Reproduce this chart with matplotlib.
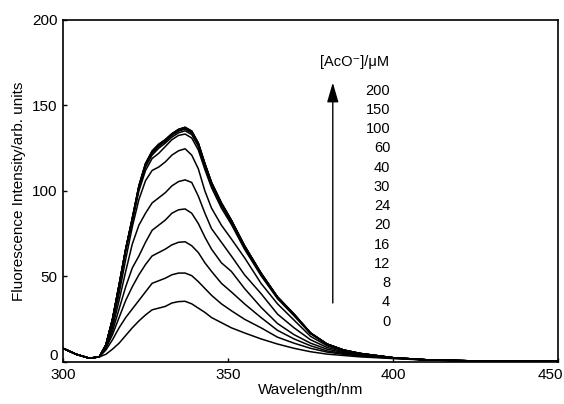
import matplotlib
matplotlib.use("Agg")
import matplotlib.pyplot as plt
import matplotlib.transforms as mtransforms

plt.rcParams['font.family'] = ['Liberation Sans', 'DejaVu Sans']

wavelength = [300, 304, 308, 311, 313, 315, 317, 319, 321, 323, 325, 327, 329, 331, 333,
              335, 337, 339, 341, 343, 345, 348, 351, 355, 360, 365, 370, 375, 380, 385,
              390, 400, 410, 425, 450]

conc = [0, 4, 8, 12, 16, 20, 24, 30, 40, 60, 100, 150, 200]

i_0 = [8.0, 4.5, 2.2, 3.0, 4.5, 7.5, 11, 15.5, 20, 24, 27.5, 30.5, 31.5, 32.5, 34.5,
       35.3, 35.5, 34, 31.5, 29, 26, 23, 20, 17, 13.5, 10.5, 8, 6, 4.6, 3.8,
       3.0, 2.0, 1.1, 0.5, 0.2]
i_4 = [8.0, 4.5, 2.2, 3.0, 7, 13, 20, 26, 31, 36, 41, 46, 47.5, 49, 51,
       52, 52, 50.5, 47, 43, 39, 34, 30, 25, 20, 14.5, 11, 8, 5.8, 4.5,
       3.5, 2.2, 1.2, 0.5, 0.2]
i_8 = [8.0, 4.5, 2.2, 3.0, 8, 16, 26, 36, 44, 51, 57, 62, 64, 66, 68.5,
       70, 70.3, 68, 64, 58, 53, 46, 41, 34, 26, 18.5, 13.5, 9.5, 6.5, 5,
       3.7, 2.3, 1.2, 0.6, 0.3]
i_12 = [8.0, 4.5, 2.2, 3.0, 8.5, 18, 31, 44, 55, 62, 70, 77, 80, 83, 87,
        89, 89.5, 87, 81, 73, 66, 58, 53, 43, 32, 22.5, 16, 11, 7.5, 5.5,
        4.0, 2.4, 1.2, 0.6, 0.3]
i_16 = [8.0, 4.5, 2.2, 3.0, 9, 20, 36, 53, 69, 80, 87, 93, 96, 99, 103,
        105.5, 106.5, 105, 97, 87, 78, 70, 62, 51, 40, 28, 20, 13, 8.5, 6,
        4.3, 2.4, 1.3, 0.6, 0.3]
i_20 = [8.0, 4.5, 2.2, 3.0, 9.5, 22, 40, 60, 79, 95, 106, 112, 114, 117, 121,
        123.5, 124.7, 121, 113, 100, 90, 80, 72, 61, 46, 34, 24.5, 15, 9.5, 6.5,
        4.6, 2.5, 1.3, 0.6, 0.3]
i_24 = [8.0, 4.5, 2.2, 3.0, 10, 25, 44, 65, 82, 100, 112, 119, 122, 126, 130,
        132.5, 133.3, 131, 124, 112.5, 102, 90, 80.5, 66, 50.5, 37, 27, 16.5, 10.3, 6.9,
        4.9, 2.5, 1.3, 0.6, 0.3]
i_30 = [8.0, 4.5, 2.2, 3.0, 10, 25, 45, 65.5, 83, 101.5, 114, 121, 125, 128, 131.5,
        134, 135.2, 133, 126, 114, 103.5, 91.5, 81.5, 67, 51, 37.5, 27.5, 16.8, 10.4, 7,
        5.0, 2.5, 1.3, 0.6, 0.3]
i_40 = [8.0, 4.5, 2.2, 3.0, 10, 25, 45, 66, 83.5, 102, 115, 122, 126, 129, 132.5,
        135, 136.2, 134, 127, 115, 104, 92, 82, 67.5, 51.5, 38, 27.8, 16.8, 10.5, 7,
        5.0, 2.5, 1.3, 0.6, 0.3]
i_60 = [8.0, 4.5, 2.2, 3.0, 10, 25, 45, 66, 84, 102.5, 115.5, 122.5, 126.5, 129.5, 133,
        135.5, 136.7, 134.5, 127.5, 115.5, 104.5, 92.5, 82.5, 68, 52, 38, 28, 17, 10.5, 7,
        5.0, 2.5, 1.3, 0.6, 0.3]
i_100 = [8.0, 4.5, 2.2, 3.0, 10, 25, 45, 66, 84, 103, 116, 123, 127, 130, 133.3,
         136, 137.1, 135, 128, 116, 105, 93, 83, 68, 52, 38, 28, 17, 10.5, 7,
         5.0, 2.5, 1.3, 0.6, 0.3]
i_150 = [8.0, 4.5, 2.2, 3.0, 10, 25, 45, 66, 84, 103, 116, 123.5, 127.5, 130, 133.5,
         136, 137.2, 135, 128, 116, 105, 93, 83, 68, 52, 38, 28, 17, 10.5, 7,
         5.0, 2.5, 1.3, 0.6, 0.3]
i_200 = [8.0, 4.5, 2.2, 3.0, 10, 25, 45, 66, 84, 103, 116, 123, 127, 130, 133.5,
         136, 137.3, 135, 128, 116, 105, 93, 83, 68, 52, 38, 28, 17, 10.5, 7,
         5.0, 2.5, 1.3, 0.6, 0.3]

series = [i_0, i_4, i_8, i_12, i_16, i_20, i_24, i_30, i_40, i_60, i_100, i_150, i_200]
label_order = [200, 150, 100, 60, 40, 30, 24, 20, 16, 12, 8, 4, 0]

fig = plt.figure(figsize=(5.64, 4.04), dpi=100)
ax = fig.add_axes([0.1117, 0.104, 0.8777, 0.8465])

for s in series:
    ax.plot(wavelength, s, color='black', lw=1.1, solid_joinstyle='round')

ax.set_xlim(300, 450)
ax.set_ylim(0, 200)
ax.set_xticks([300, 350, 400, 450])
ax.set_yticks([0, 50, 100, 150, 200])
ax.tick_params(direction='in', length=3, width=1, labelsize=11, pad=4)
for sp in ax.spines.values():
    sp.set_linewidth(1.2)

# nudge corner labels as in the reference
fig.canvas.draw()
ylabels = ax.get_yticklabels()
ylabels[0].set_transform(ylabels[0].get_transform() +
                         mtransforms.ScaledTranslation(0, 7 / 100, fig.dpi_scale_trans))
xlabels = ax.get_xticklabels()
xlabels[-1].set_transform(xlabels[-1].get_transform() +
                          mtransforms.ScaledTranslation(-8 / 100, 0, fig.dpi_scale_trans))

ax.set_xlabel('Wavelength/nm', fontsize=11, labelpad=1)
ax.set_ylabel('Fluorescence Intensity/arb. units', fontsize=11, labelpad=4)

ax.text(0.59, 0.877, '[AcO⁻]/μM', transform=ax.transAxes, ha='center', va='center',
        fontsize=10.5)
top_y, bot_y = 0.793, 0.118
n = len(label_order)
for k, c in enumerate(label_order):
    y = top_y - k * (top_y - bot_y) / (n - 1)
    ax.text(0.661, y, str(c), transform=ax.transAxes, ha='right', va='center',
            fontsize=10.5)

ax.annotate('', xy=(0.545, 0.817), xytext=(0.545, 0.1725),
            xycoords='axes fraction', textcoords='axes fraction',
            arrowprops=dict(arrowstyle='-|>,head_length=1.2,head_width=0.35',
                            color='black', lw=1.0, shrinkA=0, shrinkB=0))

fig.savefig('out.png', dpi=100)
